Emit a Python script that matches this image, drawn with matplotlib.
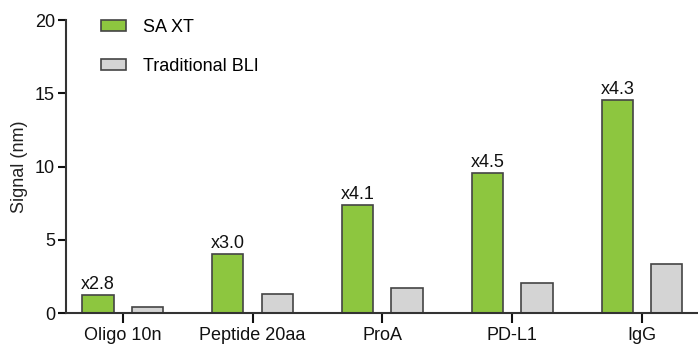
import numpy as np
import matplotlib
matplotlib.use('Agg')
import matplotlib.pyplot as plt

plt.rcParams['font.family'] = ['Liberation Sans', 'DejaVu Sans']

categories = ['Oligo 10n', 'Peptide 20aa', 'ProA', 'PD-L1', 'IgG']
sa_xt = [1.25, 4.02, 7.38, 9.55, 14.54]
traditional = [0.41, 1.30, 1.75, 2.05, 3.34]
fold_labels = ['x2.8', 'x3.0', 'x4.1', 'x4.5', 'x4.3']

green = '#8dc63f'
grey = '#d4d4d4'
edge = '#444444'
fs = 13

fig = plt.figure(figsize=(6.98, 3.45), dpi=100)
ax = fig.add_axes([0.0946, 0.092, 0.9054, 0.850])

x = np.arange(len(categories))
w = 0.24
off = 0.19
ax.bar(x - off, sa_xt, w, color=green, edgecolor=edge, linewidth=1.2, label='SA XT')
ax.bar(x + off, traditional, w, color=grey, edgecolor=edge, linewidth=1.2, label='Traditional BLI')

# fold-change over traditional BLI above each green bar
for xi, v, t in zip(x, sa_xt, fold_labels):
    ax.text(xi - off, v + 0.15, t, ha='center', va='bottom', fontsize=fs, color='#111111')

ax.set_xlim(-0.436, 4.43)
ax.set_ylim(0, 20)
ax.set_yticks([0, 5, 10, 15, 20])
ax.set_xticks(x)
ax.set_xticklabels(categories)
ax.set_ylabel('Signal (nm)', fontsize=fs, color='#222222')
ax.yaxis.set_label_coords(-0.060, 0.5)

for s in ['top', 'right']:
    ax.spines[s].set_visible(False)
for s in ['left', 'bottom']:
    ax.spines[s].set_color('#333333')
    ax.spines[s].set_linewidth(1.5)
ax.tick_params(axis='both', labelsize=fs, colors='#111111', width=1.5)
ax.tick_params(axis='y', length=6, pad=2)
ax.tick_params(axis='x', length=7, pad=3)

leg = ax.legend(loc='upper left', bbox_to_anchor=(0.0554, 1.005), frameon=False,
                fontsize=fs, handlelength=1.4, handleheight=0.55,
                labelspacing=1.25, handletextpad=0.9, borderpad=0, borderaxespad=0)

fig.savefig('out.png', dpi=100)
